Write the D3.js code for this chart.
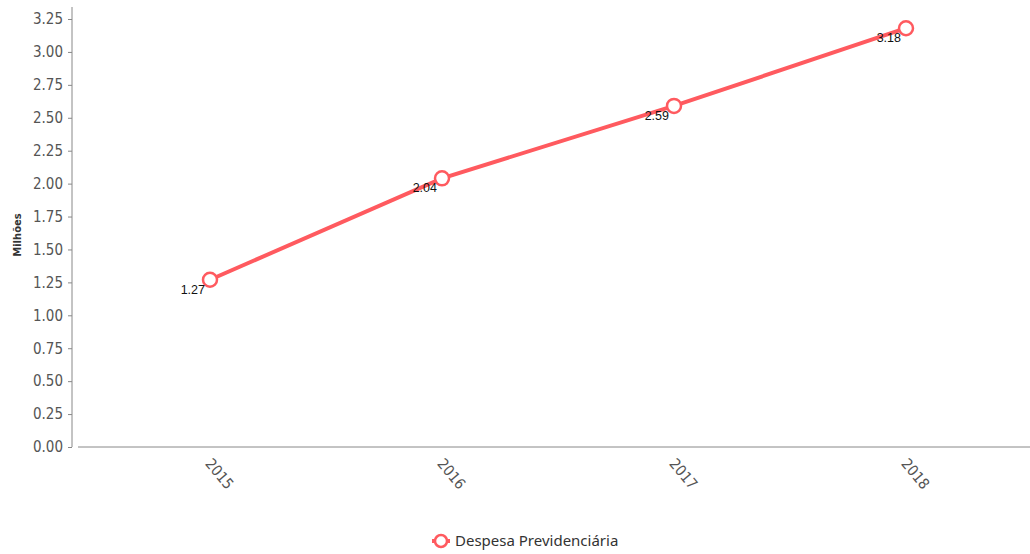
<!DOCTYPE html>
<html><head><meta charset="utf-8">
<script src="https://cdn.jsdelivr.net/npm/d3@7"></script>
<style>body{margin:0;background:#fff}</style>
</head><body>
<svg id="c" width="1030" height="554"></svg>
<script>
const categories = ["2015","2016","2017","2018"];
const values = [1.27, 2.04, 2.59, 3.18];
const yTicks = [0,0.25,0.5,0.75,1,1.25,1.5,1.75,2,2.25,2.5,2.75,3,3.25];
const seriesName = "Despesa Previdenciária";
const yTitle = "Milhões";
const color = "#ff5a5f";

const svg = d3.select("#c");
const x = d3.scalePoint().domain(categories).range([210, 906]);
const y = d3.scaleLinear().domain([0, 3.25]).range([447, 19]);

// Y axis
const yAxis = svg.append("g").attr("transform","translate(72,0)")
  .call(d3.axisLeft(y).tickValues(yTicks).tickFormat(d3.format(".2f")).tickSize(4).tickSizeOuter(0));
yAxis.select(".domain").attr("stroke","#888").attr("d","M0,7V447");
yAxis.selectAll(".tick line").attr("stroke","#888");
yAxis.selectAll(".tick text").attr("fill","#555").attr("font-family","DejaVu Sans Condensed, DejaVu Sans").attr("font-size",15).attr("x",-9);

// X axis
const xAxis = svg.append("g").attr("transform","translate(0,447)")
  .call(d3.axisBottom(x).tickSize(0).tickSizeOuter(0));
xAxis.select(".domain").attr("stroke","#888").attr("d","M78,0H1030");
xAxis.selectAll(".tick text").attr("fill","#555").attr("font-family","DejaVu Sans Condensed, DejaVu Sans").attr("font-size",15)
  .attr("text-anchor","start").attr("dy",null).attr("y",0)
  .attr("transform","translate(-6,17) rotate(50)");

// Y title
svg.append("text").attr("transform","translate(21,235) rotate(-90)").attr("text-anchor","middle")
  .attr("font-family","DejaVu Sans").attr("font-size",10).attr("font-weight","bold").attr("fill","#333").text(yTitle);

// Line
const line = d3.line().x((d,i)=>x(categories[i])).y(d=>y(d));
svg.append("path").datum(values).attr("d",line).attr("fill","none").attr("stroke",color).attr("stroke-width",4);
svg.selectAll("circle.pt").data(values).enter().append("circle").attr("class","pt")
  .attr("cx",(d,i)=>x(categories[i])).attr("cy",d=>y(d)).attr("r",7)
  .attr("fill","#fff").attr("stroke",color).attr("stroke-width",2.5);
svg.selectAll("text.lbl").data(values).enter().append("text").attr("class","lbl")
  .attr("x",(d,i)=>x(categories[i])-5).attr("y",d=>y(d)+14).attr("text-anchor","end")
  .attr("font-family","Liberation Sans").attr("font-size",12.5).attr("fill","#111").text(d=>d.toFixed(2));

// Legend
const lg = svg.append("g").attr("transform","translate(441,541)");
lg.append("line").attr("x1",-9).attr("x2",9).attr("stroke",color).attr("stroke-width",4);
lg.append("circle").attr("r",6).attr("fill","#fff").attr("stroke",color).attr("stroke-width",2.5);
lg.append("text").attr("x",14).attr("y",5).attr("font-family","Noto Sans").attr("font-size",15).attr("fill","#333").text(seriesName);
</script>
</body></html>
